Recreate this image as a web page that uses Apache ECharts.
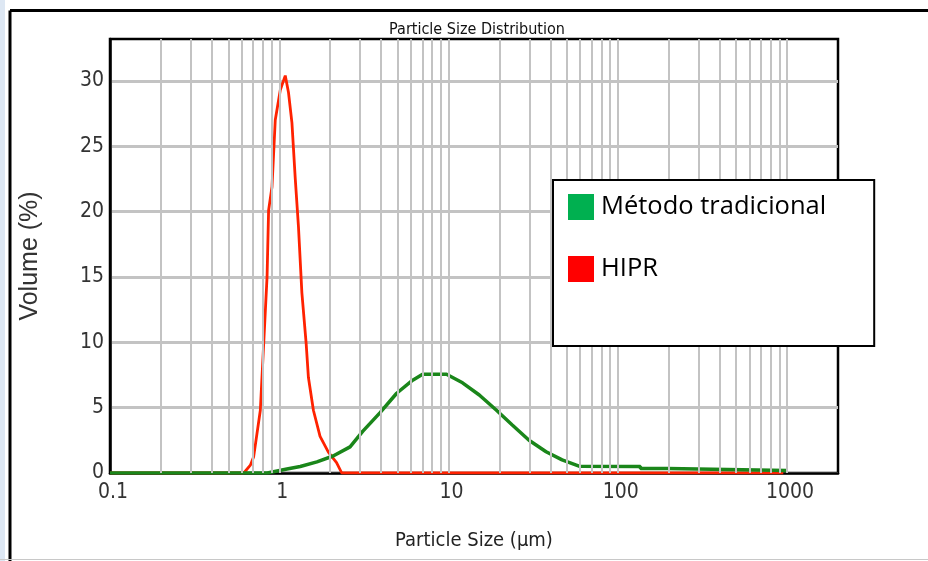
<!DOCTYPE html>
<html>
<head>
<meta charset="utf-8">
<script src="https://cdn.jsdelivr.net/npm/echarts@6/dist/echarts.min.js"></script>
<style>
html,body{margin:0;padding:0;background:#fff;}
#chart{width:928px;height:561px;}
</style>
</head>
<body>
<div id="chart"></div>
<script>
// ---- data ----
const chartTitle = 'Particle Size Distribution';
const xAxisName = 'Particle Size (µm)';
const yAxisName = 'Volume (%)';
const seriesNames = ['Método tradicional', 'HIPR'];
const xTickLabels = ['0.1', '1', '10', '100', '1000'];
const xGridValues = [0.2,0.3,0.4,0.5,0.6,0.7,0.8,0.9,1,2,3,4,5,6,7,8,9,10,20,30,40,50,60,70,80,90,100,200,300,400,500,600,700,800,900,1000];

const tradSize = [0.1, 0.85, 1.11, 1.33, 1.67, 2.08, 2.62, 3.12, 3.93, 4.94, 6.14, 7.03, 9.73, 12.1, 15.2, 19.2, 23.8, 29.9, 37.7, 46.9, 59.0, 136, 136, 197, 197, 1000];
const tradVolume = [0, 0, 0.3, 0.5, 0.85, 1.3, 2.0, 3.2, 4.6, 6.1, 7.1, 7.55, 7.55, 6.9, 5.97, 4.8, 3.67, 2.5, 1.63, 1.0, 0.52, 0.5, 0.34, 0.34, 0.2, 0.2];

const hiprSize = [0.1, 0.617, 0.675, 0.706, 0.773, 0.809, 0.847, 0.865, 0.906, 0.947, 1.014, 1.085, 1.134, 1.188, 1.242, 1.299, 1.36, 1.442, 1.487, 1.591, 1.742, 1.95, 2.18, 2.34, 950];
const hiprVolume = [0, 0, 0.6, 1.25, 4.8, 9.9, 15.0, 20.1, 21.9, 27.0, 29.3, 30.4, 29.1, 26.8, 22.6, 18.8, 13.8, 9.9, 7.3, 4.8, 2.8, 1.6, 0.8, 0, 0];

// ---- chart ----
const pair = (xs, ys) => xs.map((x, i) => [x, ys[i]]);
const narrow = "'Liberation Sans Narrow', 'DejaVu Sans Condensed', 'Liberation Sans', sans-serif";

const chart = echarts.init(document.getElementById('chart'), null, {renderer: 'canvas'});
chart.setOption({
  animation: false,
  backgroundColor: '#fff',
  title: {
    text: chartTitle,
    left: 477, top: 22, textAlign: 'center', padding: 0,
    textStyle: {fontFamily: narrow, fontSize: 16, fontWeight: 'normal', color: '#111'}
  },
  graphic: [
    {type: 'rect', shape: {x: 0, y: 0, width: 5, height: 561}, style: {fill: '#dde7f3'}, silent: true},
    {type: 'line', shape: {x1: 10, y1: 10.5, x2: 928, y2: 10.5}, style: {stroke: '#000', lineWidth: 3}, silent: true},
    {type: 'line', shape: {x1: 10, y1: 10.5, x2: 10, y2: 561}, style: {stroke: '#000', lineWidth: 3}, silent: true},
    {type: 'line', shape: {x1: 0, y1: 559.5, x2: 928, y2: 559.5}, style: {stroke: '#c8c8c8', lineWidth: 1}, silent: true}
  ],
  legend: {
    orient: 'vertical',
    left: 553, top: 180, z: 20,
    padding: [14, 48, 64, 15],
    itemWidth: 26, itemHeight: 26, itemGap: 36,
    icon: 'rect',
    borderColor: '#000', borderWidth: 2,
    backgroundColor: '#fff',
    selectedMode: false,
    itemStyle: {borderWidth: 0},
    textStyle: {fontFamily: "'Open Sans', 'Noto Sans', sans-serif", fontSize: 25.5, color: '#000', padding: [2, 0, 0, 2]},
    data: [
      {name: seriesNames[0], itemStyle: {color: '#00b050'}},
      {name: seriesNames[1], itemStyle: {color: '#ff0000'}}
    ]
  },
  grid: {
    left: 110, top: 39, right: 90, bottom: 88,
    containLabel: false, outerBoundsMode: 'none',
    show: true, borderColor: '#000', borderWidth: 2.5, backgroundColor: 'transparent'
  },
  xAxis: {
    type: 'log', logBase: 10, min: 0.1, max: 2000,
    name: xAxisName, nameLocation: 'middle', nameGap: 58,
    nameTextStyle: {fontFamily: narrow, fontSize: 20, color: '#222'},
    axisLine: {show: true, lineStyle: {color: '#000', width: 2.5}},
    axisTick: {show: false},
    splitLine: {show: false},
    axisLabel: {
      margin: 9, showMaxLabel: false,
      padding: [0, 0, 0, 6],
      fontFamily: narrow, fontSize: 21, color: '#333',
      formatter: function (v) {
        const l = Math.log10(v);
        const r = Math.round(l);
        if (Math.abs(l - r) > 1e-6) return '';
        return xTickLabels[r + 1] || '';
      }
    }
  },
  yAxis: {
    type: 'value', min: 0, max: 33.2, interval: 5,
    name: yAxisName, nameLocation: 'middle', nameGap: 67, nameRotate: 90,
    nameTextStyle: {fontFamily: "'Liberation Sans', Arial, sans-serif", fontSize: 25, color: '#333'},
    axisLine: {show: true, lineStyle: {color: '#000', width: 2.5}},
    axisTick: {show: false},
    axisLabel: {margin: 6, showMaxLabel: false, fontFamily: narrow, fontSize: 21, color: '#333'},
    splitLine: {show: true, showMaxLine: false, lineStyle: {color: '#c3c3c3', width: 3}}
  },
  series: [
    {
      name: 'grid', type: 'line', data: [], z: 1, silent: true,
      markLine: {
        silent: true, symbol: ['none', 'none'], animation: false,
        label: {show: false},
        lineStyle: {color: '#c3c3c3', width: 2, type: 'solid'},
        emphasis: {disabled: true},
        data: xGridValues.map(v => ({xAxis: v}))
      }
    },
    {
      name: seriesNames[0], type: 'line', z: 4,
      data: pair(tradSize, tradVolume),
      showSymbol: false, symbol: 'none',
      lineStyle: {color: '#1a861a', width: 3.5},
      itemStyle: {color: '#1a861a'}
    },
    {
      name: seriesNames[1], type: 'line', z: 3,
      data: pair(hiprSize, hiprVolume),
      showSymbol: false, symbol: 'none',
      lineStyle: {color: '#ff2200', width: 2.8},
      itemStyle: {color: '#ff2200'}
    }
  ]
});
</script>
</body>
</html>
